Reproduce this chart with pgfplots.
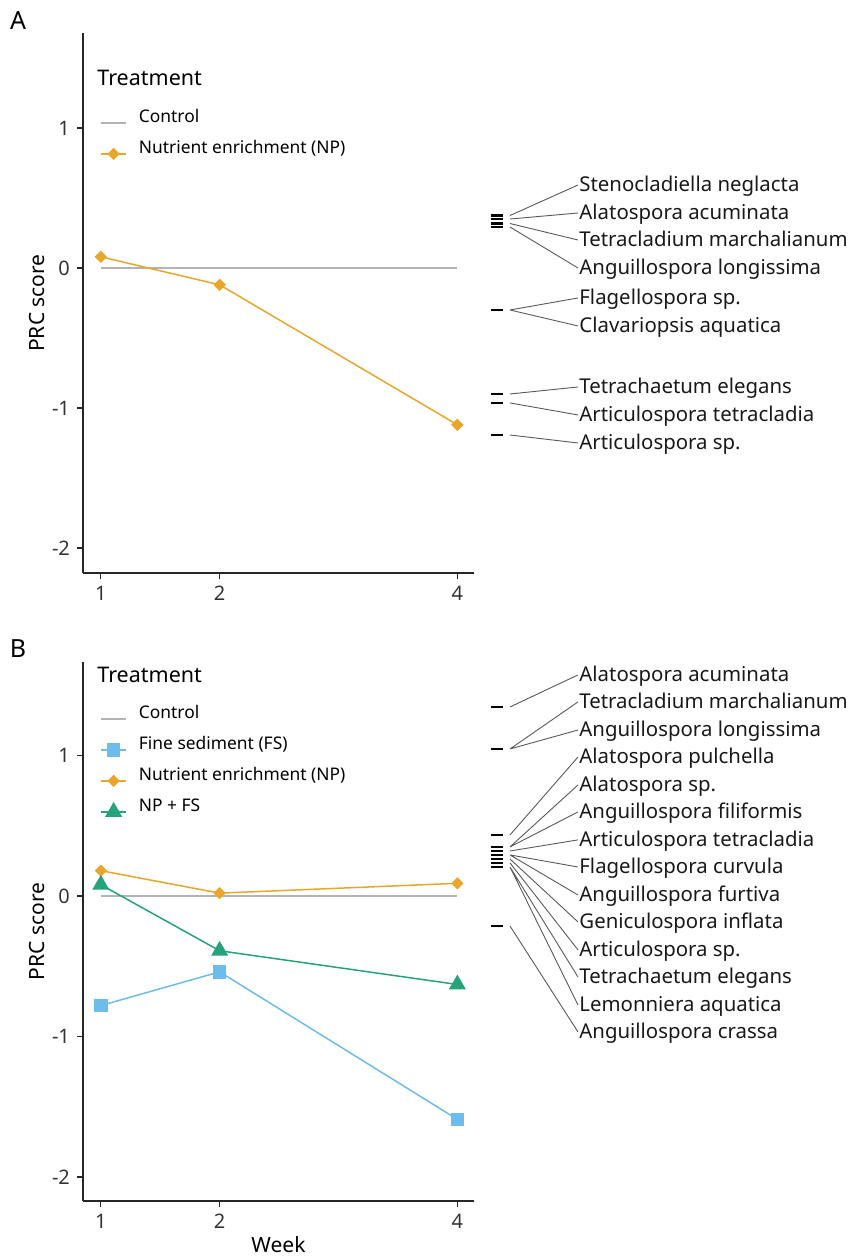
\documentclass[border=0pt]{standalone}
\usepackage{pgfplots}
\pgfplotsset{compat=1.18}
\usepackage{fontspec}
\setmainfont{Noto Sans}
\definecolor{npcol}{HTML}{E8A62A}
\definecolor{fscol}{HTML}{6CBDEB}
\definecolor{npfscol}{HTML}{25A37A}
\definecolor{ctrlcol}{HTML}{B3B3B3}
\pgfplotsset{
  prcaxis/.style={
    scale only axis, width=195.5pt,
    xmin=0.85, xmax=4.14,
    axis x line*=bottom, axis y line*=left,
    axis line style={-, line width=0.8pt, black!85},
    xtick={1,2,4}, ytick={-2,-1,0,1},
    tick align=outside, major tick length=3pt,
    tick style={line width=0.6pt, black!85},
    /pgf/number format/assume math mode=true,
    ticklabel style={font=\fontsize{10}{12}\selectfont, text=black!80},
    ylabel={PRC score},
    ylabel style={at={(axis description cs:-0.1176,0.5)}, anchor=center, font=\fontsize{10.5}{12}\selectfont},
    legend image code/.code={\draw[mark repeat=2,mark phase=2] plot coordinates {(0pt,0pt) (6.25pt,0pt) (12.5pt,0pt)};},
    legend style={draw=none, fill=none, inner sep=0pt, anchor=north west,
      font=\fontsize{8.7}{10.5}\selectfont, row sep=4.5pt, column sep=6pt,
      nodes={inner sep=0pt, text height=8pt, text depth=3pt, anchor=base west}},
    legend cell align=left,
  },
  spaxis/.style={
    scale only axis, width=183.5pt, xmin=484, xmax=851,
    hide axis, clip=false,
  },
  tickmk/.style={only marks, mark=-, mark size=3pt, mark options={line width=1.1pt, black}},
  conn/.style={black!65, line width=0.45pt, unbounded coords=jump},
}
\newcommand{\splabel}[2]{\node[anchor=base west, yshift=-0.34em, font=\fontsize{10.2}{12}\selectfont, text=black!90, inner sep=0pt] at (axis cs:579,#1) {#2};}
\begin{document}
\begin{tikzpicture}
\path[use as bounding box] (0,0) rectangle (425.5pt,-628.5pt);
\node[font=\fontsize{12.5}{14}\selectfont] at (9pt,-10.5pt) {A};
\node[font=\fontsize{12.5}{14}\selectfont] at (9pt,-324.5pt) {B};
% ---------------- Panel A ----------------
\begin{axis}[prcaxis, at={(41.5pt,-286.5pt)}, anchor=south west, height=270pt,
  ymin=-2.179, ymax=1.679,
  legend style={at={(axis description cs:0.0435,0.864)}}]
\addplot[ctrlcol, line width=0.7pt] coordinates {(1,0) (4,0)};
\addlegendentry{Control}
\addplot[npcol, line width=0.75pt, mark=square*, mark size=1.8pt, mark options={rotate=45, solid}] coordinates {(1,0.08) (2,-0.12) (4,-1.12)};
\addlegendentry{Nutrient enrichment (NP)}
\node[anchor=west, font=\fontsize{10.75}{13}\selectfont, inner sep=0pt] at (rel axis cs:0.0358,0.9167) {Treatment};
\end{axis}
\begin{axis}[spaxis, at={(242pt,-286.5pt)}, anchor=south west, height=270pt, ymin=-2.179, ymax=1.679]
\addplot[tickmk] coordinates {(497,0.375) (497,0.35) (497,0.318) (497,0.293) (497,-0.30) (497,-0.90) (497,-0.964) (497,-1.193)};
\addplot[conn] coordinates {
 (510,0.375) (578,0.593) (nan,nan)
 (510,0.35) (578,0.393) (nan,nan)
 (510,0.318) (578,0.2) (nan,nan)
 (510,0.293) (578,0) (nan,nan)
 (510,-0.30) (578,-0.214) (nan,nan)
 (510,-0.30) (578,-0.414) (nan,nan)
 (510,-0.90) (578,-0.85) (nan,nan)
 (510,-0.964) (578,-1.05) (nan,nan)
 (510,-1.193) (578,-1.25)};
\splabel{0.593}{Stenocladiella neglacta}
\splabel{0.393}{Alatospora acuminata}
\splabel{0.2}{Tetracladium marchalianum}
\splabel{0}{Anguillospora longissima}
\splabel{-0.214}{Flagellospora sp.}
\splabel{-0.414}{Clavariopsis aquatica}
\splabel{-0.85}{Tetrachaetum elegans}
\splabel{-1.05}{Articulospora tetracladia}
\splabel{-1.25}{Articulospora sp.}
\end{axis}
% ---------------- Panel B ----------------
\begin{axis}[prcaxis, at={(41.5pt,-600.5pt)}, anchor=south west, height=269.5pt,
  ymin=-2.171, ymax=1.665,
  xlabel={Week},
  xlabel style={at={(axis description cs:0.5,-0.0816)}, anchor=center, font=\fontsize{10.5}{12}\selectfont},
  legend style={at={(axis description cs:0.0435,0.925)}}]
\addplot[ctrlcol, line width=0.7pt] coordinates {(1,0) (4,0)};
\addlegendentry{Control}
\addplot[fscol, line width=0.75pt, mark=square*, mark size=3pt, mark options={solid}] coordinates {(1,-0.78) (2,-0.54) (4,-1.59)};
\addlegendentry{Fine sediment (FS)}
\addplot[npcol, line width=0.75pt, mark=square*, mark size=1.8pt, mark options={rotate=45, solid}] coordinates {(1,0.18) (2,0.02) (4,0.09)};
\addlegendentry{Nutrient enrichment (NP)}
\addplot[npfscol, line width=0.75pt, mark=triangle*, mark size=4.2pt, mark options={solid}] coordinates {(1,0.08) (2,-0.39) (4,-0.63)};
\addlegendentry{NP + FS}
\node[anchor=west, font=\fontsize{10.75}{13}\selectfont, inner sep=0pt] at (rel axis cs:0.0358,0.976) {Treatment};
\end{axis}
\begin{axis}[spaxis, at={(242pt,-600.5pt)}, anchor=south west, height=269.5pt, ymin=-2.171, ymax=1.665]
\addplot[tickmk] coordinates {(497,1.345) (497,1.046) (497,0.434) (497,0.349) (497,0.320) (497,0.292) (497,0.263) (497,0.235) (497,0.206) (497,-0.214)};
\addplot[conn] coordinates {
 (510,1.345) (578,1.573) (nan,nan)
 (510,1.046) (578,1.381) (nan,nan)
 (510,1.046) (578,1.181) (nan,nan)
 (510,0.434) (578,0.989) (nan,nan)
 (510,0.349) (578,0.79) (nan,nan)
 (510,0.349) (578,0.598) (nan,nan)
 (510,0.320) (578,0.399) (nan,nan)
 (510,0.292) (578,0.206) (nan,nan)
 (510,0.292) (578,0.007) (nan,nan)
 (510,0.263) (578,-0.185) (nan,nan)
 (510,0.235) (578,-0.384) (nan,nan)
 (510,0.206) (578,-0.577) (nan,nan)
 (510,0.206) (578,-0.776) (nan,nan)
 (510,-0.214) (578,-0.968)};
\splabel{1.573}{Alatospora acuminata}
\splabel{1.381}{Tetracladium marchalianum}
\splabel{1.181}{Anguillospora longissima}
\splabel{0.989}{Alatospora pulchella}
\splabel{0.79}{Alatospora sp.}
\splabel{0.598}{Anguillospora filiformis}
\splabel{0.399}{Articulospora tetracladia}
\splabel{0.206}{Flagellospora curvula}
\splabel{0.007}{Anguillospora furtiva}
\splabel{-0.185}{Geniculospora inflata}
\splabel{-0.384}{Articulospora sp.}
\splabel{-0.577}{Tetrachaetum elegans}
\splabel{-0.776}{Lemonniera aquatica}
\splabel{-0.968}{Anguillospora crassa}
\end{axis}
\end{tikzpicture}
\end{document}
